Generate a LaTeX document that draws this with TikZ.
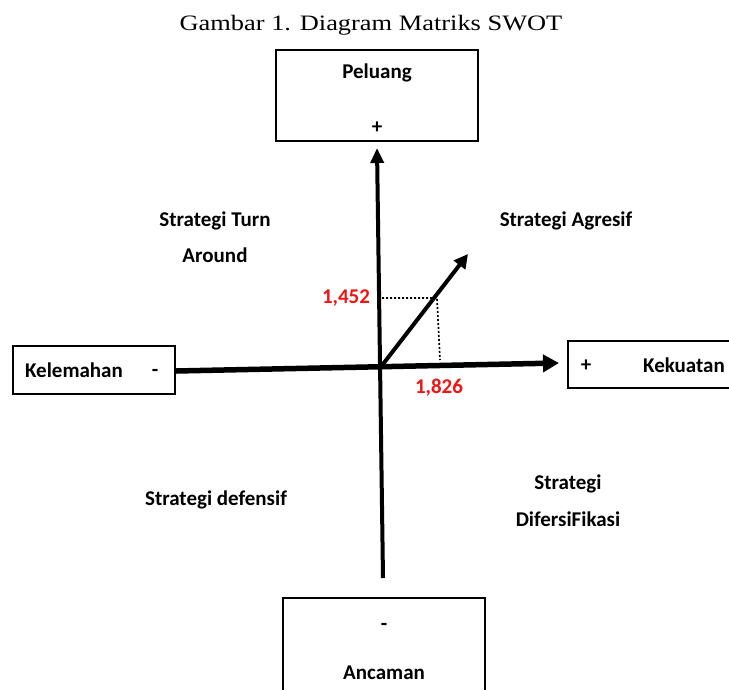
\documentclass[tikz,border=0pt]{standalone}
\usepackage{fontspec}
\setmainfont{Carlito}
\newfontfamily\titlefont{Liberation Serif}
\usetikzlibrary{arrows.meta}
\definecolor{valred}{RGB}{240,20,20}
\begin{document}
\begin{tikzpicture}[x=1pt,y=-1pt,
  box/.style={draw,line width=1.3pt,inner sep=0pt},
  lbl/.style={font=\fontsize{21}{25}\selectfont\bfseries,inner sep=0pt,align=center},
  val/.style={lbl,text=valred},
  vaxis/.style={line width=4pt,-{Triangle[length=15pt,width=13pt]}},
  haxis/.style={line width=5.5pt,-{Triangle[length=16pt,width=17pt]}},
  daxis/.style={line width=4pt,-{Triangle[length=14pt,width=14pt]}},
  guide/.style={line width=1.7pt,dash pattern=on 2pt off 2pt}]
\useasboundingbox (0,0) rectangle (729,689);
% title
\node[font=\titlefont\fontsize{22}{26}\selectfont,inner sep=0pt] (title) at (371,25) {\scalebox{1.2}[1]{Gambar 1. Diagram Matriks SWOT}};
% boxes
\node[box,minimum width=202pt,minimum height=91pt] (peluang) at (377,95.5) {};
\node[box,minimum width=162pt,minimum height=48pt] (kelemahan) at (94,370) {};
\node[box,minimum width=172pt,minimum height=47pt] (kekuatan) at (654,364.5) {};
\node[box,minimum width=202pt,minimum height=110pt] (ancaman) at (384,653) {};
% box texts
\node[lbl] (tpeluang) at (377,73) {Peluang};
\node[lbl] (ppeluang) at (377,128) {+};
\node[lbl] (tkelemahan) at (74,370) {Kelemahan};
\node[lbl] (mkelemahan) at (155,373) {-};
\node[lbl] (pkekuatan) at (586,366) {+};
\node[lbl] (tkekuatan) at (684,365) {Kekuatan};
\node[lbl] (mancaman) at (384,627) {-};
\node[lbl] (tancaman) at (384,673) {Ancaman};
% axes
\coordinate (vb) at (383,578);
\coordinate (vt) at (377,148);
\coordinate (hl) at (176,371);
\coordinate (hr) at (559,363);
\coordinate (O) at (380,368);
\coordinate (D) at (468,254);
\coordinate (gx) at (437,298);
\coordinate (gy) at (382,298);
\coordinate (gb) at (440,360);
\draw[vaxis] (vb) -- (vt);
\draw[haxis] (hl) -- (hr);
\draw[daxis] (O) -- (D);
\draw[guide] (gy) -- (gx) -- (gb);
% values
\node[val] (v1) at (346,298) {1,452};
\node[val] (v2) at (439,388) {1,826};
% strategies
\node[lbl] (s1a) at (215,221) {Strategi Turn};
\node[lbl] (s1b) at (215,255) {Around};
\node[lbl] (s2) at (566,221) {Strategi Agresif};
\node[lbl] (s3) at (216,500) {Strategi defensif};
\node[lbl] (s4a) at (568,484) {Strategi};
\node[lbl] (s4b) at (568,519) {DifersiFikasi};
\end{tikzpicture}
\end{document}
